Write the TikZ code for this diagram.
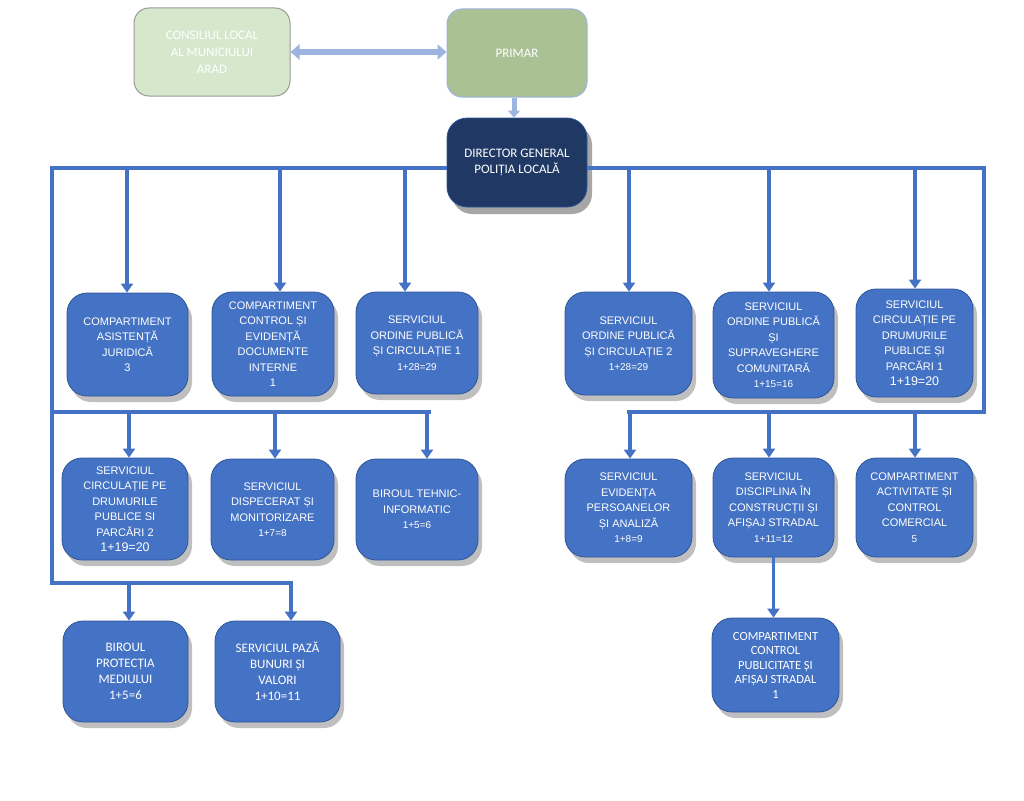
\documentclass[tikz,border=0pt]{standalone}
\usepackage{fontspec}
\usetikzlibrary{arrows.meta,shadows}
\newfontfamily\arialf{Liberation Sans}
\newfontfamily\calf{Carlito}
\definecolor{unitblue}{HTML}{4472C4}
\definecolor{unitedge}{HTML}{2F5597}
\definecolor{navy}{HTML}{1F3864}
\definecolor{sage}{HTML}{A9C193}
\definecolor{palegreen}{HTML}{D5E8CC}
\definecolor{paleblue}{HTML}{9DB3E0}
\newcommand{\tally}[1]{{\fontsize{10}{14}\selectfont #1}}
\newcommand{\bigtally}[1]{{\fontsize{12.5}{17}\selectfont #1}}

\begin{document}
\begin{tikzpicture}[x=1pt, y=-1pt,
  box/.style={draw=unitedge, fill=unitblue, line width=0.8pt, rounded corners=20pt,
    text=white, align=center, inner sep=2pt, minimum width=122pt, minimum height=103pt,
    font=\arialf\fontsize{11}{15.5}\selectfont},
  unit/.style={box, drop shadow={shadow xshift=4pt, shadow yshift=-6pt, opacity=0.5}},
  cal unit/.style={unit, font=\calf\fontsize{13}{16}\selectfont},
  top node/.style={line width=1pt, rounded corners=15pt, text=white, align=center,
    minimum width=140pt, minimum height=88pt, font=\calf\fontsize{13}{17}\selectfont},
  bus/.style={draw=unitblue, line width=4.5pt},
  arr/.style={draw=unitblue, line width=3.5pt, -{Triangle[width=12pt,length=9pt]}},
  pale arr/.style={draw=paleblue, line width=6pt}]
\useasboundingbox (0,0) rectangle (1024,800);

% top of the chart
\node[top node, fill=palegreen, draw=gray!80, minimum width=156pt] (cl) at (212,52) {CONSILIUL LOCAL\\AL MUNICIULUI\\ARAD};
\node[top node, fill=sage, draw=paleblue] (pr) at (517,53) {PRIMAR};
\node[box, fill=navy, draw=unitedge, minimum width=140pt, minimum height=89pt,
  font=\calf\fontsize{13}{16}\selectfont,
  drop shadow={shadow xshift=5pt, shadow yshift=-7pt, opacity=0.7}] (dg) at (517,162.5) {DIRECTOR GENERAL\\POLIȚIA LOCALĂ};

% first row
\node[unit, minimum width=121pt] (b1) at (127.5,344.5) {COMPARTIMENT\\ASISTENȚĂ\\JURIDICĂ\\3};
\node[unit, minimum height=104pt] (b2) at (273,344) {COMPARTIMENT\\CONTROL ȘI\\EVIDENȚĂ\\DOCUMENTE\\INTERNE\\1};
\node[unit, minimum height=102pt] (b3) at (417,343) {SERVICIUL\\ORDINE PUBLICĂ\\ȘI CIRCULAȚIE 1\\\tally{1+28=29}};
\node[unit, minimum width=127pt] (b4) at (628.5,343.5) {SERVICIUL\\ORDINE PUBLICĂ\\ȘI CIRCULAȚIE 2\\\tally{1+28=29}};
\node[unit, minimum width=121pt, minimum height=106pt] (b5) at (773.5,345) {SERVICIUL\\ORDINE PUBLICĂ\\ȘI\\SUPRAVEGHERE\\COMUNITARĂ\\\tally{1+15=16}};
\node[unit, minimum width=117pt, minimum height=108pt] (b6) at (914.5,343) {SERVICIUL\\CIRCULAȚIE PE\\DRUMURILE\\PUBLICE  ȘI\\PARCĂRI 1\\\bigtally{1+19=20}};

% second row
\node[unit, minimum width=126pt, minimum height=102pt] (c1) at (125,509) {SERVICIUL\\CIRCULAȚIE PE\\DRUMURILE\\PUBLICE  SI\\PARCĂRI 2\\\bigtally{1+19=20}};
\node[unit, minimum width=123pt, minimum height=101pt] (c2) at (272.5,509.5) {SERVICIUL\\DISPECERAT ȘI\\MONITORIZARE\\\tally{1+7=8}};
\node[unit, minimum height=101pt] (c3) at (417,509.5) {BIROUL TEHNIC-\\INFORMATIC\\\tally{1+5=6}};
\node[unit, minimum width=127pt, minimum height=98pt] (c4) at (628.5,508) {SERVICIUL\\EVIDENȚA\\PERSOANELOR\\ȘI ANALIZĂ\\\tally{1+8=9}};
\node[unit, minimum width=121pt, minimum height=99pt] (c5) at (773.5,507.5) {SERVICIUL\\DISCIPLINA ÎN\\CONSTRUCȚII ȘI\\AFIȘAJ STRADAL\\\tally{1+11=12}};
\node[unit, minimum width=117pt, minimum height=99pt] (c6) at (914.5,507.5) {COMPARTIMENT\\ACTIVITATE ȘI\\CONTROL\\COMERCIAL\\\tally{5}};

% third row
\node[cal unit, minimum width=125pt, minimum height=101pt] (d1) at (125.5,671.5) {BIROUL\\PROTECȚIA\\MEDIULUI\\1+5=6};
\node[cal unit, minimum width=125pt, minimum height=101pt] (d2) at (277.5,671.5) {SERVICIUL PAZĂ\\BUNURI ȘI\\VALORI\\1+10=11};
\node[cal unit, minimum width=127pt, minimum height=94pt, font=\calf\fontsize{12.5}{14.5}\selectfont] (d3) at (775.5,665) {COMPARTIMENT\\CONTROL\\PUBLICITATE ȘI\\AFIȘAJ STRADAL\\1};

% upper links
\draw[pale arr, {Triangle[width=15pt,length=9pt]}-{Triangle[width=15pt,length=9pt]}] (cl.east) -- (cl.east -| pr.west);
\draw[pale arr, line width=5pt, -{Triangle[width=12pt,length=7pt]}] ([xshift=-3pt]pr.south) -- ([xshift=-3pt]dg.north);

% bus lines
\coordinate (busL) at (52,168);
\coordinate (busLm) at (52,412);
\coordinate (busLb) at (52,583);
\coordinate (endLm) at (431,412);
\coordinate (endLb) at (293,583);
\coordinate (busR) at (984,168);
\coordinate (busRm) at (984,412);
\coordinate (endRm) at (627,412);
\draw[bus] (dg.west |- busL) -- (busL) -- (busLb) -- (endLb);
\draw[bus] (busLm) -- (endLm);
\draw[bus] (dg.east |- busR) -- (busR) -- (busRm) -- (endRm);

% arrows down to the units
\foreach \n/\x in {b1/127,b2/280,b3/405,b4/629,b5/769,b6/915}
  {\coordinate (t\n) at (\x,168); \draw[arr] (t\n) -- (t\n |- \n.north);}
\foreach \n/\x in {c1/129,c2/275,c3/427,c4/630,c5/769,c6/915}
  {\coordinate (t\n) at (\x,412); \draw[arr] (t\n) -- (t\n |- \n.north);}
\foreach \n/\x in {d1/129,d2/291}
  {\coordinate (t\n) at (\x,583); \draw[arr] (t\n) -- (t\n |- \n.north);}
\draw[arr] (c5.south) -- (c5.south |- d3.north);
\end{tikzpicture}
\end{document}
